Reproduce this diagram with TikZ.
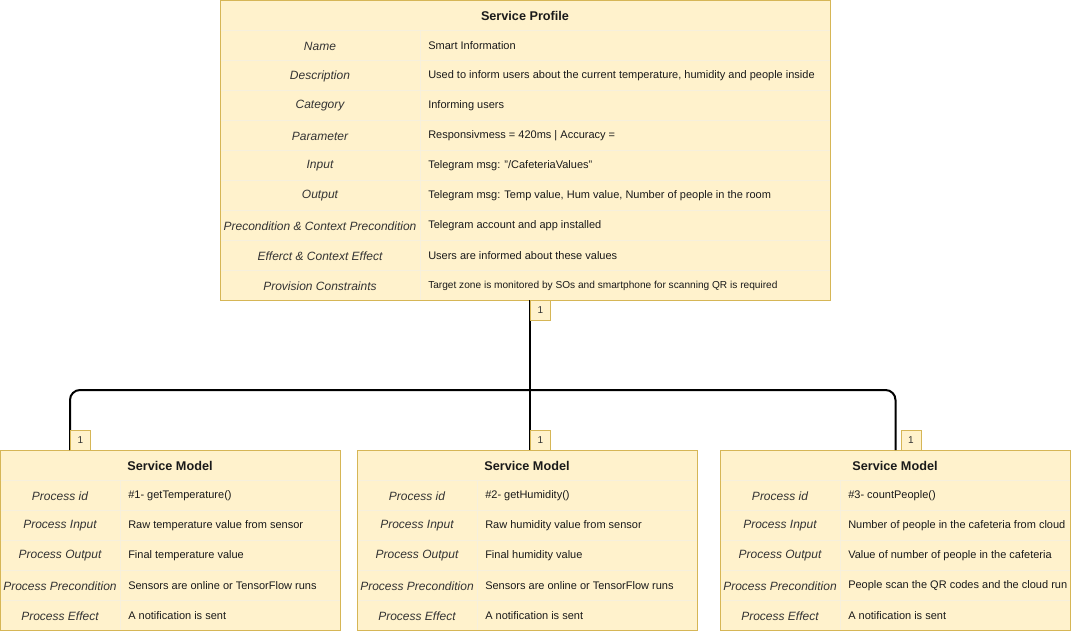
\documentclass[tikz,border=0pt]{standalone}
\usepackage{fontspec}
\setmainfont{Liberation Sans}
\definecolor{tfill}{HTML}{FFF2CC}
\definecolor{tborder}{HTML}{D6B656}
\definecolor{tgrid}{HTML}{F7F0DC}
\definecolor{tkey}{HTML}{333333}
\definecolor{tval}{HTML}{1A1A1A}

% Table frame with a bold title band: #1 name, #2 x1, #3 y1, #4 x2, #5 y2, #6 title, #7 column split x
\newcommand\frametable[7]{%
  \node[tblbox, minimum width={0.75*(#4-#2)}, minimum height={0.75*(#5-#3)}] (#1) at (#2,#3) {};
  \node[hdrtext] (#1-title) at ({(#2+#4)/2},{#3+16}) {#6};
  \draw[hdrline] ({#2+0.5},{#3+30}) -- ({#4-0.5},{#3+30});
  \draw[gridline] (#7,{#3+30}) -- (#7,{#5-0.5});
}
% One key/value row: #1 name, #2 x1, #3 split x, #4 x2, #5 row top y, #6 key, #7 value
\newcommand\keyrow[7]{%
  \draw[gridline] ({#2+0.5},#5) -- ({#4-0.5},#5);
  \node[keytext] (#1-k) at ({(#2+#3)/2},{#5+16}) {#6};
  \node[valtext] (#1-v) at ({#3+8},{#5+16}) {#7};
}

\begin{document}
\begin{tikzpicture}[x=0.75pt,y=-0.75pt,
  tblbox/.style={draw=tborder, fill=tfill, line width=0.75pt, anchor=north west, inner sep=0pt},
  hdrtext/.style={font=\fontsize{9.5}{11}\selectfont\bfseries, text=tval, inner sep=0pt},
  hdrline/.style={draw=tborder!70, line width=0.75pt},
  gridline/.style={draw=tgrid, line width=0.75pt},
  keytext/.style={font=\fontsize{9}{11}\selectfont\itshape, text=tkey, inner sep=0pt},
  valtext/.style={font=\fontsize{8.25}{10}\selectfont, text=tval, anchor=west, inner sep=0pt},
  smallval/.style={valtext, font=\fontsize{7.6}{9}\selectfont},
  cardbox/.style={draw=tborder, fill=tfill, line width=0.75pt, anchor=north west,
    minimum width=15pt, minimum height=15pt, inner sep=0pt,
    font=\fontsize{7.5}{9}\selectfont, text=tkey},
  conn/.style={draw=black, line width=1.5pt, rounded corners=7.5pt}
]
\useasboundingbox (0,0) rectangle (1071,632);

% Service profile
\frametable{prof}{220}{0}{830}{300}{Service Profile}{420}
\keyrow{p1}{220}{420}{830}{30}{Name}{Smart Information}
\keyrow{p2}{220}{420}{830}{60}{Description}{Used to inform users about the current temperature, humidity and people inside}
\keyrow{p3}{220}{420}{830}{90}{Category}{Informing users}
\keyrow{p4}{220}{420}{830}{120}{Parameter}{Responsivmess = 420ms | Accuracy =}
\keyrow{p5}{220}{420}{830}{150}{Input}{Telegram msg: "/CafeteriaValues"}
\keyrow{p6}{220}{420}{830}{180}{Output}{Telegram msg: Temp value, Hum value, Number of people in the room}
\keyrow{p7}{220}{420}{830}{210}{Precondition \& Context Precondition}{Telegram account and app installed}
\keyrow{p8}{220}{420}{830}{240}{Efferct \& Context Effect}{Users are informed about these values}
\draw[gridline] (220.5,270) -- (829.5,270);
\node[keytext] (p9-k) at (320,286) {Provision Constraints};
\node[smallval] (p9-v) at (428,286) {Target zone is monitored by SOs and smartphone for scanning QR is required};

% Service model 1
\frametable{sm1}{0}{450}{340}{630}{Service Model}{120}
\keyrow{a1}{0}{120}{340}{480}{Process id}{\#1- getTemperature()}
\keyrow{a2}{0}{120}{340}{510}{Process Input}{Raw temperature value from sensor}
\keyrow{a3}{0}{120}{340}{540}{Process Output}{Final temperature value}
\keyrow{a4}{0}{120}{340}{570}{Process Precondition}{Sensors are online or TensorFlow runs}
\keyrow{a5}{0}{120}{340}{600}{Process Effect}{A notification is sent}

% Service model 2
\frametable{sm2}{357}{450}{697}{630}{Service Model}{477}
\keyrow{b1}{357}{477}{697}{480}{Process id}{\#2- getHumidity()}
\keyrow{b2}{357}{477}{697}{510}{Process Input}{Raw humidity value from sensor}
\keyrow{b3}{357}{477}{697}{540}{Process Output}{Final humidity value}
\keyrow{b4}{357}{477}{697}{570}{Process Precondition}{Sensors are online or TensorFlow runs}
\keyrow{b5}{357}{477}{697}{600}{Process Effect}{A notification is sent}

% Service model 3
\frametable{sm3}{720}{450}{1070}{630}{Service Model}{840}
\keyrow{c1}{720}{840}{1070}{480}{Process id}{\#3- countPeople()}
\keyrow{c2}{720}{840}{1070}{510}{Process Input}{Number of people in the cafeteria from cloud}
\keyrow{c3}{720}{840}{1070}{540}{Process Output}{Value of number of people in the cafeteria}
\keyrow{c4}{720}{840}{1070}{570}{Process Precondition}{People scan the QR codes and the cloud run}
\keyrow{c5}{720}{840}{1070}{600}{Process Effect}{A notification is sent}

% Connector end points on the table edges
\coordinate (profout) at (530,300);
\coordinate (split) at (530,390);
\coordinate (sm1in) at (70,450);
\coordinate (sm2in) at (530,450);
\coordinate (sm3in) at (895.5,450);

\draw[conn] (profout) -- (sm2in);
\draw[conn] (split) -| (sm1in);
\draw[conn] (split) -| (sm3in);

% Multiplicity labels
\node[cardbox] (mprof) at (530,300) {1};
\node[cardbox] (m1) at (70,430) {1};
\node[cardbox] (m2) at (530,430) {1};
\node[cardbox] (m3) at (900.5,430) {1};
\end{tikzpicture}
\end{document}
